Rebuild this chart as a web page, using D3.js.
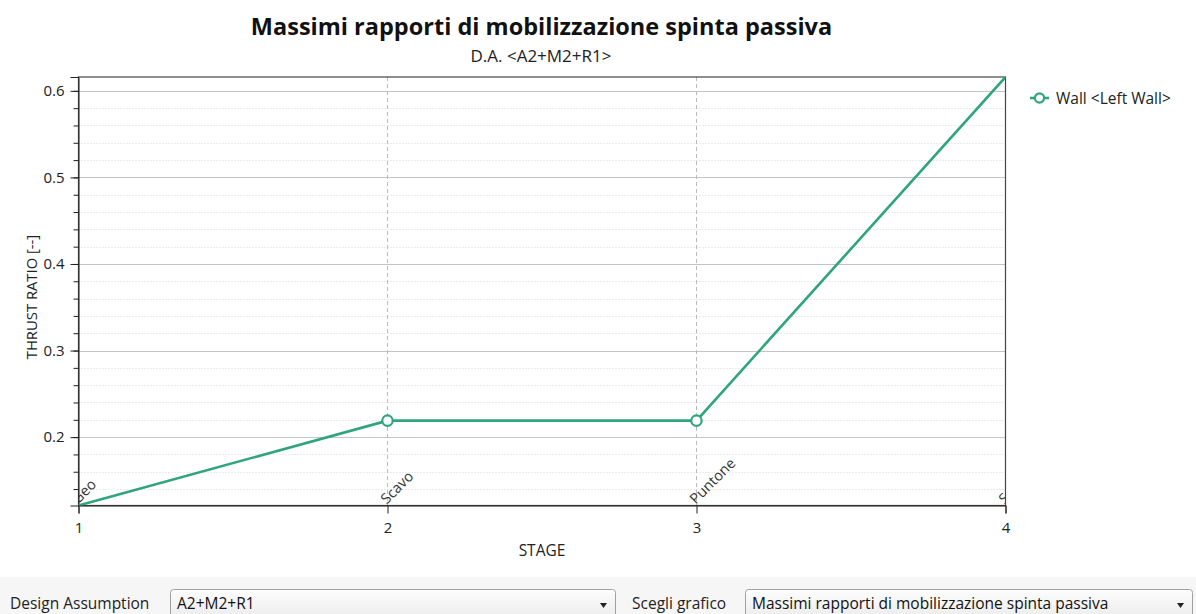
<!DOCTYPE html>
<html>
<head>
<meta charset="utf-8">
<script src="https://cdn.jsdelivr.net/npm/d3@7"></script>
<style>
  html, body { margin: 0; padding: 0; background: #fff; }
  svg { display: block; font-family: "Open Sans", "Noto Sans", sans-serif; }
</style>
</head>
<body>
<svg id="chart" width="1196" height="614"></svg>
<script>
// dati
const stages = [1, 2, 3, 4];
const stageNames = ['Geo', 'Scavo', 'Puntone', 'Solaio'];
const thrustRatio = [0.121, 0.219, 0.219, 0.616];
const yMajorTicks = [0.2, 0.3, 0.4, 0.5, 0.6];
const seriesName = 'Wall <Left Wall>';
const daName = 'A2+M2+R1';
const chartName = 'Massimi rapporti di mobilizzazione spinta passiva';

const svg = d3.select('#chart');
const W = 1196, H = 614;
const m = { left: 78.5, right: 1005.5, top: 77, bottom: 505.5 };
const green = '#2fa57b';

const x = d3.scaleLinear().domain([1, 4]).range([m.left, m.right]);
const y = d3.scaleLinear().domain(d3.extent(thrustRatio)).range([m.bottom, m.top]);

const minorTicks = d3.range(0.12, 0.62, 0.02).filter(v => v >= y.domain()[0] - 1e-9 && v <= y.domain()[1]);

// clip dell'area del grafico
svg.append('defs').append('clipPath').attr('id', 'plotClip')
  .append('rect').attr('x', m.left).attr('y', m.top)
  .attr('width', m.right - m.left).attr('height', m.bottom - m.top);

// griglia minore (tratteggiata)
svg.append('g').selectAll('line').data(minorTicks.filter(v => !yMajorTicks.some(t => Math.abs(t - v) < 1e-6)))
  .join('line')
  .attr('x1', m.left).attr('x2', m.right)
  .attr('y1', d => Math.round(y(d)) + 0.5).attr('y2', d => Math.round(y(d)) + 0.5)
  .attr('stroke', '#d6d6d6').attr('stroke-dasharray', '1,2');

// griglia maggiore
svg.append('g').selectAll('line').data(yMajorTicks)
  .join('line')
  .attr('x1', m.left).attr('x2', m.right)
  .attr('y1', d => Math.round(y(d)) + 0.5).attr('y2', d => Math.round(y(d)) + 0.5)
  .attr('stroke', '#c4c4c4');

// griglia verticale
svg.append('g').selectAll('line').data(stages.slice(1, -1))
  .join('line')
  .attr('x1', d => Math.round(x(d)) + 0.5).attr('x2', d => Math.round(x(d)) + 0.5)
  .attr('y1', m.top).attr('y2', m.bottom)
  .attr('stroke', '#bbbbbb').attr('stroke-dasharray', '4,3');

// nomi delle fasi ruotati
svg.append('g').attr('clip-path', 'url(#plotClip)')
  .selectAll('text').data(stages)
  .join('text')
  .attr('transform', d => `translate(${x(d)},${m.bottom}) rotate(-45)`)
  .attr('x', 0).attr('y', -1)
  .attr('font-size', 14.5).attr('fill', '#333')
  .text((d, i) => stageNames[i]);

// cornice
svg.append('rect')
  .attr('x', m.left).attr('y', m.top)
  .attr('width', m.right - m.left).attr('height', m.bottom - m.top)
  .attr('fill', 'none').attr('stroke', '#444').attr('stroke-width', 1.2);

// asse Y
const gy = svg.append('g').attr('transform', `translate(${m.left},0)`)
  .call(d3.axisLeft(y).tickValues(yMajorTicks).tickFormat(d3.format('.1f')).tickSize(8).tickPadding(6))
  .attr('font-family', null).attr('font-size', 15);
gy.select('.domain').attr('stroke', '#222');
gy.selectAll('.tick line').attr('stroke', '#222');
gy.selectAll('text').attr('fill', '#222');
svg.append('g').attr('transform', `translate(${m.left},0)`)
  .call(d3.axisLeft(y).tickValues(minorTicks).tickFormat('').tickSize(5))
  .call(g => g.select('.domain').remove())
  .selectAll('.tick line').attr('stroke', '#222');

// asse X
const gx = svg.append('g').attr('transform', `translate(0,${m.bottom})`)
  .call(d3.axisBottom(x).tickValues(stages).tickFormat(d3.format('d')).tickSize(8).tickPadding(9))
  .attr('font-family', null).attr('font-size', 15);
gx.select('.domain').attr('stroke', '#222');
gx.selectAll('.tick line').attr('stroke', '#222');
gx.selectAll('text').attr('fill', '#222');

// serie
const pts = stages.map((s, i) => [s, thrustRatio[i]]);
svg.append('path').datum(pts)
  .attr('clip-path', 'url(#plotClip)')
  .attr('fill', 'none').attr('stroke', green).attr('stroke-width', 2.6)
  .attr('d', d3.line().x(d => x(d[0])).y(d => y(d[1])));

svg.append('g').selectAll('circle')
  .data(pts.filter(d => d[0] > 1 && d[0] < 4))
  .join('circle')
  .attr('cx', d => x(d[0])).attr('cy', d => y(d[1])).attr('r', 5.2)
  .attr('fill', '#fff').attr('stroke', green).attr('stroke-width', 2.2);

// titoli
svg.append('text').attr('x', 541.5).attr('y', 35).attr('text-anchor', 'middle')
  .attr('font-size', 23.5).attr('font-weight', 700).attr('fill', '#111')
  .text(chartName);
svg.append('text').attr('x', 541).attr('y', 62).attr('text-anchor', 'middle')
  .attr('font-size', 17).attr('fill', '#222')
  .text(`D.A. <${daName}>`);
svg.append('text').attr('transform', 'translate(37,297) rotate(-90)').attr('text-anchor', 'middle')
  .attr('font-size', 14.8).attr('fill', '#222').text('THRUST RATIO [--]');
svg.append('text').attr('x', 542).attr('y', 556).attr('text-anchor', 'middle')
  .attr('font-size', 15.5).attr('fill', '#222').text('STAGE');

// legenda
const lg = svg.append('g').attr('transform', 'translate(1030,98)');
lg.append('line').attr('x1', 0).attr('x2', 19).attr('stroke', green).attr('stroke-width', 2.6);
lg.append('circle').attr('cx', 9.5).attr('r', 4.6).attr('fill', '#fff').attr('stroke', green).attr('stroke-width', 2.2);
lg.append('text').attr('x', 26).attr('y', 5.5).attr('font-size', 15.5).attr('fill', '#222').text(seriesName);

// barra dei controlli in basso
const bar = svg.append('g');
bar.append('rect').attr('x', 0).attr('y', 577).attr('width', W).attr('height', H - 577).attr('fill', '#f6f6f6');
const grad = svg.select('defs').append('linearGradient').attr('id', 'comboGrad')
  .attr('x1', 0).attr('x2', 0).attr('y1', 0).attr('y2', 1);
grad.append('stop').attr('offset', '0%').attr('stop-color', '#fdfdfd');
grad.append('stop').attr('offset', '100%').attr('stop-color', '#e9e9e9');

function combo(lbl, lx, bx, bw, val) {
  bar.append('text').attr('x', lx).attr('y', 609).attr('font-size', 15.5).attr('fill', '#222').text(lbl);
  bar.append('rect').attr('x', bx + 0.5).attr('y', 589.5).attr('width', bw).attr('height', 34).attr('rx', 3)
    .attr('fill', 'url(#comboGrad)').attr('stroke', '#a0a0a0');
  bar.append('text').attr('x', bx + 7).attr('y', 609).attr('font-size', 15.5).attr('fill', '#111').text(val);
  bar.append('path').attr('d', `M${bx + bw - 15},603 l7,0 l-3.5,5 z`).attr('fill', '#222');
}
combo('Design Assumption', 10, 170, 445, daName);
combo('Scegli grafico', 632, 745, 447, chartName);
</script>
</body>
</html>
